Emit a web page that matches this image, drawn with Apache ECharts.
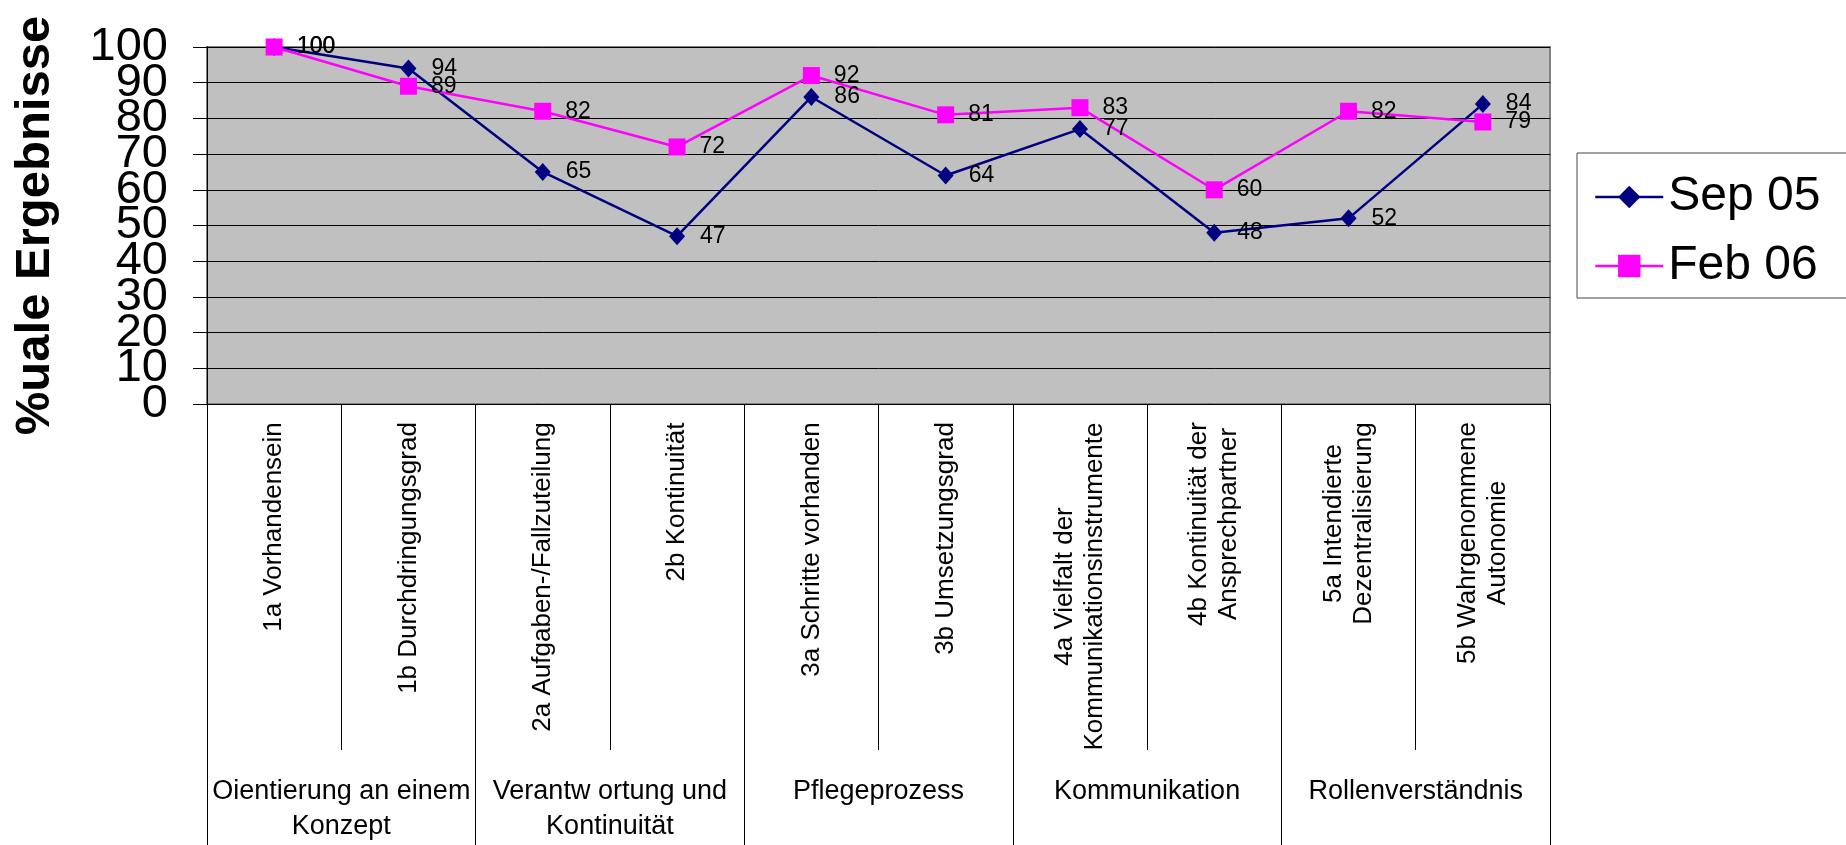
<!DOCTYPE html>
<html>
<head>
<meta charset="utf-8">
<script src="https://cdn.jsdelivr.net/npm/echarts@6/dist/echarts.min.js"></script>
<style>
  html, body { margin: 0; padding: 0; background: #fff; }
  #chart { width: 1846px; height: 845px; }
</style>
</head>
<body>
<div id="chart"></div>
<script>
// Item labels (lower tier of the category axis)
const categories = [
  '1a Vorhandensein',
  '1b Durchdringungsgrad',
  '2a Aufgaben-/Fallzuteilung',
  '2b Kontinuität',
  '3a Schritte vorhanden',
  '3b Umsetzungsgrad',
  '4a Vielfalt der\nKommunikationsinstrumente',
  '4b Kontinuität der\nAnsprechpartner',
  '5a Intendierte\nDezentralisierung',
  '5b Wahrgenommene\nAutonomie'
];
// Group labels (upper tier, two items per group)
const groups = [
  'Oientierung an einem\nKonzept',
  'Verantw ortung und\nKontinuität',
  'Pflegeprozess',
  'Kommunikation',
  'Rollenverständnis'
];
const seriesNames = ['Sep 05', 'Feb 06'];
const sep05 = [100, 94, 65, 47, 86, 64, 77, 48, 52, 84];
const feb06 = [100, 89, 82, 72, 92, 81, 83, 60, 82, 79];
// Value-axis tick labels, split in two sets so the large digits may crowd each other
const yTicksEven = [0, 20, 40, 60, 80, 100];
const yTicksOdd = [10, 30, 50, 70, 90];

const FONT = '"Liberation Sans", Arial, sans-serif';
const CAT_SIZE = 26;

// Multi-line rotated labels: centre each line inside a box as wide as the longest line
const ctx = document.createElement('canvas').getContext('2d');
ctx.font = CAT_SIZE + 'px ' + FONT;
const rich = {};
categories.forEach((c, i) => {
  const w = Math.max(...c.split('\n').map(l => ctx.measureText(l).width));
  rich['c' + i] = {
    width: Math.ceil(w), align: 'center', fontSize: CAT_SIZE,
    fontFamily: FONT, color: '#000', lineHeight: 30
  };
});

const yLabel = list => ({
  margin: 39, fontSize: 47, fontFamily: FONT, color: '#000',
  showMinLabel: true, showMaxLabel: true, hideOverlap: false,
  formatter: v => (list.includes(v) ? String(v) : '')
});

const chart = echarts.init(document.getElementById('chart'));
chart.setOption({
  animation: false,
  backgroundColor: '#fff',
  grid: {
    left: 207, right: 296, top: 47, bottom: 441,
    show: true, backgroundColor: '#C0C0C0',
    borderColor: '#808080', borderWidth: 2
  },
  legend: {
    orient: 'vertical',
    left: 1577, top: 153,
    padding: [20, 28, 8, 17],
    itemWidth: 68, itemHeight: 28, itemGap: 21, itemTextGap: 15,
    borderColor: '#444', borderWidth: 1,
    lineStyle: { width: 2.5 },
    textStyle: { fontSize: 48, fontFamily: FONT, color: '#000' },
    data: seriesNames
  },
  xAxis: [
    {
      type: 'category',
      data: categories,
      position: 'bottom',
      boundaryGap: true,
      axisLine: { show: false },
      axisTick: { show: true, interval: 0, length: 346, lineStyle: { color: '#000', width: 1 } },
      axisLabel: {
        interval: 0, rotate: 90, margin: 18,
        formatter: (v, i) => v.split('\n').map(l => '{c' + i + '|' + l + '}').join('\n'),
        rich: rich
      }
    },
    {
      type: 'category',
      data: groups,
      position: 'bottom',
      boundaryGap: true,
      axisLine: { show: false },
      axisTick: { show: true, interval: 0, length: 441, lineStyle: { color: '#000', width: 1 } },
      axisLabel: {
        interval: 0, margin: 370, fontSize: 27, lineHeight: 35,
        fontFamily: FONT, color: '#000'
      }
    }
  ],
  yAxis: [
    {
      type: 'value',
      min: 0, max: 100, interval: 10,
      position: 'left',
      name: '%uale Ergebnisse',
      nameLocation: 'middle',
      nameRotate: 90,
      nameGap: 147,
      nameTextStyle: { fontSize: 49, fontWeight: 'bold', fontFamily: FONT, color: '#000' },
      axisLine: { show: true, lineStyle: { color: '#000', width: 1 } },
      axisTick: { show: true, length: 14, lineStyle: { color: '#000', width: 1 } },
      axisLabel: yLabel(yTicksEven),
      splitLine: { show: true, lineStyle: { color: '#000', width: 1 } }
    },
    {
      type: 'value',
      min: 0, max: 100, interval: 10,
      position: 'left',
      offset: 0,
      axisLine: { show: false },
      axisTick: { show: false },
      axisLabel: yLabel(yTicksOdd),
      splitLine: { show: false }
    }
  ],
  series: [
    {
      name: seriesNames[0],
      type: 'line',
      data: sep05,
      symbol: 'diamond',
      symbolSize: [16, 18],
      lineStyle: { color: '#000080', width: 2.5 },
      itemStyle: { color: '#000080' },
      label: { show: true, position: 'right', distance: 15, fontSize: 23, fontFamily: FONT, color: '#000' }
    },
    {
      name: seriesNames[1],
      type: 'line',
      data: feb06,
      symbol: 'rect',
      symbolSize: 17,
      lineStyle: { color: '#FF00FF', width: 2.5 },
      itemStyle: { color: '#FF00FF' },
      label: { show: true, position: 'right', distance: 14, fontSize: 23, fontFamily: FONT, color: '#000' }
    }
  ]
});
</script>
</body>
</html>
